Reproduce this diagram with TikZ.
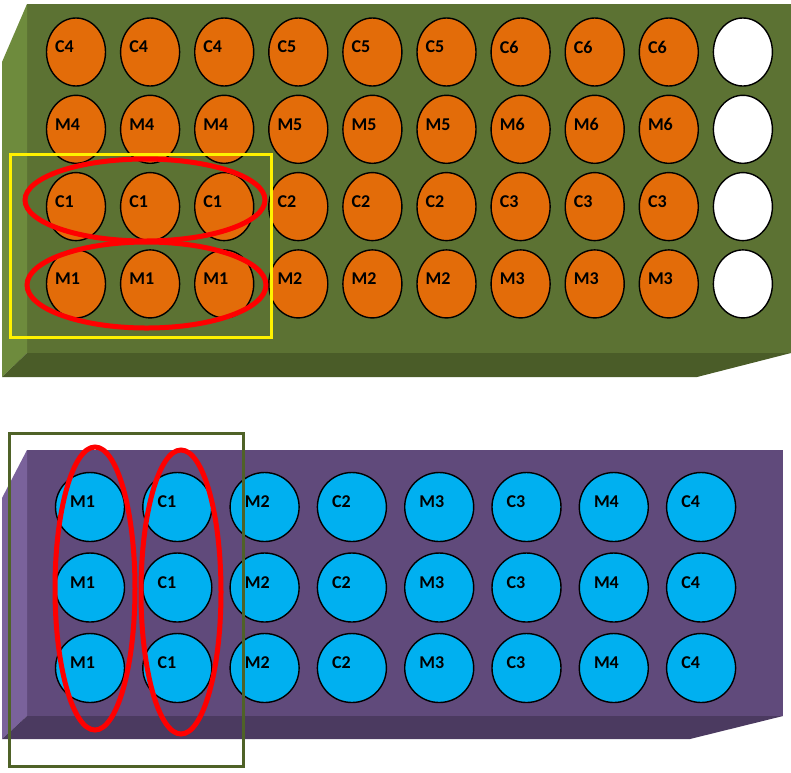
\documentclass[tikz,border=0pt]{standalone}
\usepackage{fontspec}
\setmainfont{Carlito}
\usetikzlibrary{shapes.geometric}

\definecolor{greenface}{HTML}{5C7233}
\definecolor{greenside}{HTML}{6E8B3D}
\definecolor{greenfoot}{HTML}{4A5C28}
\definecolor{purpleface}{HTML}{604A7B}
\definecolor{purpleside}{HTML}{7A629B}
\definecolor{purplefoot}{HTML}{4B3A60}
\definecolor{wellorange}{HTML}{E36C09}
\definecolor{wellblue}{HTML}{00B0F0}
\definecolor{boxgreen}{HTML}{4F6228}

\tikzset{
  orangewell/.style={ellipse,draw=black,line width=1.4pt,fill=wellorange,
    minimum width=59pt,minimum height=68pt,inner sep=0pt},
  emptywell/.style={orangewell,fill=white},
  bluewell/.style={circle,draw=black,line width=1.4pt,fill=wellblue,
    minimum size=69pt,inner sep=0pt},
  welltext/.style={anchor=west,inner sep=0pt,
    font=\fontsize{18}{20}\selectfont\bfseries},
  redring/.style={draw=red,line width=5pt}
}

\begin{document}
\begin{tikzpicture}[x=1pt,y=-1pt]
				\useasboundingbox (0,0) rectangle (791,772);
				% the upper plate
				\fill[greenface] (27,4) rectangle (791,353);
				\fill[greenside] (2,62) -- (27,4) -- (27,353) -- (2,377) -- cycle;
				\fill[greenfoot] (2,377) -- (27,353) -- (791,353) -- (697,377) -- cycle;
				\foreach \kind/\base [count=\r from 0] in {C/4,M/4,C/1,M/1} {
					\foreach \c in {0,...,8} {
						\pgfmathtruncatemacro{\num}{\base+int(\c/3)}
						\node[orangewell] (tw-\r-\c) at ({76+74.1*\c},{52+77.3*\r}) {};
						\node[welltext] (tl-\r-\c) at ([xshift=-21pt,yshift=5pt]tw-\r-\c.center) {\kind\num};
					}
					\node[emptywell] (tw-\r-9) at ({76+74.1*9},{52+77.3*\r}) {};
				}
				% the lower plate
				\fill[purpleface] (27,450) rectangle (783,716);
				\fill[purpleside] (2,498) -- (27,450) -- (27,716) -- (2,739) -- cycle;
				\fill[purplefoot] (2,739) -- (27,716) -- (783,716) -- (690,739) -- cycle;
				\foreach \kind/\num [count=\c from 0] in {M/1,C/1,M/2,C/2,M/3,C/3,M/4,C/4} {
					\foreach \r in {0,1,2} {
						\node[bluewell] (bw-\r-\c) at ({90+87.3*\c},{507+80.5*\r}) {};
						\node[welltext] (bl-\r-\c) at ([xshift=-20pt,yshift=5pt]bw-\r-\c.center) {\kind\num};
					}
				}
				% the frames round the first wells
				\draw[yellow,line width=2.5pt] (10.3,154.3) rectangle (271.7,337.7);
				\draw[boxgreen,line width=3.3pt] (9.7,433.7) rectangle (243.3,766.3);
				% the red rings
				\draw[redring] (145,200) ellipse [x radius=120,y radius=41];
				\draw[redring] (146.5,285) ellipse [x radius=119.5,y radius=43];
				\draw[redring] (95,588.5) ellipse [x radius=40,y radius=141.5];
				\draw[redring] (181,592) ellipse [x radius=40,y radius=142];
			\end{tikzpicture}
\end{document}
